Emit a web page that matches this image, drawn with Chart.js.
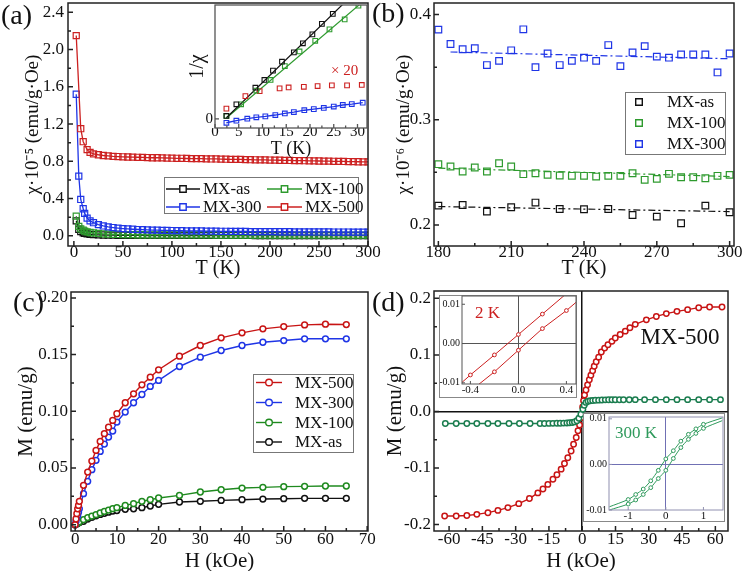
<!DOCTYPE html>
<html>
<head>
<meta charset="utf-8">
<title>Susceptibility and magnetization</title>
<script src="https://cdn.jsdelivr.net/npm/chart.js@4.4.1/dist/chart.umd.min.js"></script>
<style>
  body { margin: 0; background: #fff; }
  #fig { position: relative; width: 744px; height: 571px; overflow: hidden; background: #fff; }
  #fig canvas { position: absolute; }
</style>
</head>
<body>
<div id="fig">
  <canvas id="pa" width="390" height="285" style="left:0;top:0"></canvas>
  <canvas id="pb" width="372" height="285" style="left:372px;top:0"></canvas>
  <canvas id="pc" width="390" height="286" style="left:0;top:285px"></canvas>
  <canvas id="pd" width="372" height="286" style="left:372px;top:285px"></canvas>
  <canvas id="ia" width="187" height="162" style="left:185px;top:0"></canvas>
  <canvas id="i2k" width="138" height="103" style="left:439px;top:295px;background:#fff"></canvas>
  <canvas id="i300" width="142" height="109" style="left:583px;top:413px;background:#fff"></canvas>
</div>
<script>
// ---- (a) chi vs T, main ----
const aT = [2.4, 5, 7, 9.5, 11, 13.5, 16.5, 20, 25, 30, 35, 40, 45, 50, 55, 60, 65, 70, 75, 80, 85, 90, 95, 100,
  105, 110, 115, 120, 125, 130, 135, 140, 145, 150, 155, 160, 165, 170, 175, 180, 185, 190, 195, 200,
  205, 210, 215, 220, 225, 230, 235, 240, 245, 250, 255, 260, 265, 270, 275, 280, 285, 290, 295, 300];
const aRed = [2.15, null, 1.15, 1.01, null, 0.925, 0.895, 0.880, 0.870, 0.862, 0.858, 0.853, 0.851, 0.848, 0.846, 0.845,
  0.843, 0.842, 0.840, 0.838, 0.838, 0.836, 0.835, 0.833, 0.832, 0.832, 0.830, 0.829, 0.828, 0.828, 0.826, 0.825,
  0.825, 0.823, 0.822, 0.821, 0.820, 0.820, 0.818, 0.817, 0.816, 0.815, 0.815, 0.813, 0.812, 0.811, 0.810, 0.809,
  0.808, 0.807, 0.806, 0.805, 0.804, 0.803, 0.802, 0.801, 0.800, 0.799, 0.798, 0.797, 0.796, 0.795, 0.794, 0.793];
const aBlue = [1.52, 0.64, 0.39, 0.29, 0.24, 0.19, 0.16, 0.14, 0.12, 0.105, 0.095, 0.088, 0.082, 0.077, 0.073, 0.070,
  0.067, 0.065, 0.063, 0.061, 0.060, 0.058, 0.057, 0.056, 0.055, 0.054, 0.053, 0.052, 0.052, 0.051, 0.050, 0.050,
  0.049, 0.048, 0.048, 0.047, 0.047, 0.046, 0.046, 0.045, 0.045, 0.045, 0.044, 0.044, 0.044, 0.043, 0.043, 0.043,
  0.042, 0.042, 0.042, 0.042, 0.041, 0.041, 0.041, 0.041, 0.040, 0.040, 0.040, 0.040, 0.039, 0.039, 0.039, 0.039];
const aGreen = [0.21, 0.10, 0.075, 0.06, 0.05, 0.042, 0.035, 0.030, 0.025, 0.021, 0.018, 0.016, 0.014, 0.013, 0.012, 0.012,
  0.011, 0.011, 0.010, 0.010, 0.010, 0.009, 0.009, 0.009, 0.009, 0.009, 0.009, 0.009, 0.009, 0.009, 0.009, 0.009,
  0.008, 0.008, 0.008, 0.008, 0.008, 0.008, 0.008, 0.008, 0.008, 0.008, 0.008, 0.008, 0.008, 0.008, 0.008, 0.008,
  0.007, 0.007, 0.007, 0.007, 0.007, 0.007, 0.007, 0.007, 0.007, 0.007, 0.007, 0.007, 0.007, 0.007, 0.007, 0.007];
const aBlack = [0.16, 0.07, 0.045, 0.032, 0.026, 0.020, 0.016, 0.013, 0.010, 0.008, 0.007, 0.006, 0.005, 0.005, 0.004, 0.004,
  0.004, 0.004, 0.003, 0.003, 0.003, 0.003, 0.003, 0.003, 0.003, 0.003, 0.003, 0.003, 0.003, 0.003, 0.003, 0.003,
  0.003, 0.003, 0.003, 0.003, 0.003, 0.003, 0.003, 0.003, 0.002, 0.002, 0.002, 0.002, 0.002, 0.002, 0.002, 0.002,
  0.002, 0.002, 0.002, 0.002, 0.002, 0.002, 0.002, 0.002, 0.002, 0.002, 0.002, 0.002, 0.002, 0.002, 0.002, 0.002];
const aXTicks = [0, 50, 100, 150, 200, 250, 300];
const aYTicks = [0, 0.4, 0.8, 1.2, 1.6, 2.0, 2.4];

// ---- (a) inset: 1/chi vs T ----
const iaBlackT = [2.4, 4.5, 8.5, 10.4, 12.2, 14.1, 16.6, 18.5, 20.5, 22.5, 24.8];
const iaBlack = [0.13, 0.64, 1.37, 1.71, 2.12, 2.51, 2.92, 3.32, 3.71, 4.17, 4.61];
const iaGreenT = [2.4, 5.5, 8.7, 11.7, 14.7, 17.8, 21.1, 24.1, 27.3, 30.2];
const iaGreen = [0.13, 0.64, 1.24, 1.71, 2.32, 2.96, 3.43, 3.93, 4.37, 4.97];
const iaRedT = [2.4, 6.4, 9.4, 13.6, 15.5, 18.7, 21.6, 24.6, 27.8, 30.9];
const iaRed = [0.45, 1.00, 1.22, 1.34, 1.38, 1.41, 1.44, 1.47, 1.47, 1.49];
const iaBlueT = [2.4, 4.5, 6.8, 8.7, 10.6, 12.7, 14.7, 16.6, 18.8, 20.8, 22.9, 25.0, 26.9, 28.8, 31.1];
const iaBlue = [-0.17, -0.08, 0.01, 0.07, 0.11, 0.17, 0.24, 0.30, 0.38, 0.43, 0.48, 0.54, 0.61, 0.65, 0.71];
const iaBlackFit = [[2.4, 0.05], [27.0, 5.05]];
const iaGreenFit = [[2.4, 0.04], [30.6, 5.05]];
const iaXTicks = [0, 5, 10, 15, 20, 25, 30];
const iaYTicks = [0];

// ---- (b) chi vs T, 180-300 K ----
const bT = [180, 185, 190, 195, 200, 205, 210, 215, 220, 225, 230, 235, 240, 245, 250, 255, 260, 265, 270, 275, 280, 285, 290, 295, 300];
const bBlue = [0.3857, 0.372, 0.367, 0.368, 0.352, 0.356, 0.366, 0.386, 0.350, 0.363, 0.352, 0.356, 0.359,
  0.356, 0.371, 0.351, 0.364, 0.370, 0.360, 0.359, 0.362, 0.362, 0.362, 0.345, 0.363];
const bGreen = [0.2578, 0.2556, 0.2508, 0.2546, 0.2508, 0.2587, 0.2556, 0.2483, 0.2492, 0.2476, 0.2470, 0.2467, 0.2467,
  0.2460, 0.2467, 0.2467, 0.2492, 0.2429, 0.2438, 0.2486, 0.2454, 0.2454, 0.2444, 0.2467, 0.2476];
const bT10 = [180, 190, 200, 210, 220, 230, 240, 250, 260, 270, 280, 290, 300];
const bBlack = [0.2184, 0.2190, 0.2127, 0.2168, 0.2213, 0.2152, 0.2149, 0.2152, 0.2095, 0.2079, 0.2016, 0.2184, 0.2121];
const bBlueFit = [[185, 0.3644], [300, 0.358]];
const bGreenFit = [[180, 0.254], [300, 0.246]];
const bBlackFit = [[180, 0.2175], [300, 0.2127]];
const bXTicks = [180, 210, 240, 270, 300];
const bYTicks = [0.2, 0.3, 0.4];

// ---- (c) M vs H ----
const cH = [0, 0.2, 0.4, 0.6, 0.8, 1, 2, 3, 4, 5, 6, 7, 8, 9, 10, 12, 14, 16, 18, 20, 25, 30, 35, 40, 45, 50, 55, 60, 65];
const cRed = [0, 0.005, 0.0097, 0.014, 0.017, 0.0206, 0.0347, 0.0464, 0.0561, 0.0655, 0.0734, 0.0802, 0.086, 0.0919, 0.0978,
  0.1075, 0.1154, 0.1233, 0.1301, 0.1366, 0.1486, 0.158, 0.1648, 0.1692, 0.1727, 0.1747, 0.1762, 0.1768, 0.1765];
const cBlue = [0, 0.003, 0.006, 0.008, 0.011, 0.014, 0.0273, 0.0382, 0.0485, 0.0567, 0.0646, 0.0711, 0.0772, 0.0825, 0.0905,
  0.0993, 0.1075, 0.1148, 0.1219, 0.1272, 0.1395, 0.1477, 0.1536, 0.158, 0.1609, 0.1624, 0.1639, 0.1639, 0.1639];
const cGreen = [0, 0.0005, 0.001, 0.0015, 0.002, 0.0025, 0.0044, 0.0062, 0.0076, 0.0088, 0.0103, 0.0117, 0.0129, 0.0141, 0.015,
  0.017, 0.0185, 0.0206, 0.022, 0.0235, 0.0258, 0.0288, 0.0308, 0.0323, 0.0329, 0.0335, 0.0338, 0.0341, 0.0341];
const cBlack = [0, 0.0004, 0.0008, 0.0012, 0.0016, 0.002, 0.003, 0.005, 0.0065, 0.0078, 0.009, 0.010, 0.011, 0.012, 0.0125,
  0.0135, 0.014, 0.015, 0.0164, 0.0179, 0.020, 0.0206, 0.0214, 0.022, 0.0226, 0.0229, 0.0232, 0.0232, 0.0232];
const cXTicks = [0, 10, 20, 30, 40, 50, 60, 70];
const cYTicks = [0, 0.05, 0.10, 0.15, 0.20];

// ---- (d) M vs H loops ----
const dRedH = [-62, -56.8, -52, -47.5, -42.5, -38, -33.5, -28.6, -23.8, -20, -17.7, -15.5, -13.2, -11.4, -9.5, -8, -6.5, -5,
  -3.9, -2.7, -1.9, -1.2, -0.45, 0.2, 0.6, 1.05, 1.7, 2.4, 3.2, 3.9, 4.7, 5.4, 6.3, 7.4, 8.6, 10.1, 11.6, 13.4, 14.9,
  17.1, 19.4, 21.5, 23.9, 28.9, 33.4, 37.9, 42.7, 47.5, 52.5, 57.4, 63];
const dRed = [-0.185, -0.185, -0.184, -0.182, -0.179, -0.175, -0.170, -0.163, -0.154, -0.144, -0.137, -0.129, -0.120, -0.112,
  -0.102, -0.092, -0.082, -0.070, -0.058, -0.046, -0.034, -0.024, -0.011, 0.008, 0.019, 0.029, 0.038, 0.047, 0.056, 0.064,
  0.072, 0.080, 0.088, 0.096, 0.105, 0.112, 0.118, 0.124, 0.130, 0.136, 0.142, 0.148, 0.154, 0.162, 0.168, 0.173, 0.177,
  0.180, 0.1835, 0.1846, 0.1846];
const dGreenH = [-61.7, -56.8, -52, -47.5, -42.5, -38, -33, -28.3, -23.5, -19, -17, -15, -13.2, -11.4, -9.9, -8.4, -6.9, -5.7,
  -4.5, -3.5, -2.4, -1.5, -0.6, 0.3, 0.9, 1.7, 2.6, 3.6, 4.7, 5.9, 7.4, 8.9, 10.4, 11.9, 13.4, 14.9, 16.8, 18.6, 21.2,
  23.9, 28.1, 33, 37.9, 42.7, 47.5, 52.5, 57.4, 62.3];
const dGreen = [-0.0213, -0.0213, -0.0213, -0.0213, -0.0213, -0.0213, -0.0213, -0.0213, -0.0213, -0.0212, -0.0212, -0.0211,
  -0.0210, -0.0209, -0.0208, -0.0206, -0.0204, -0.0201, -0.0195, -0.0185, -0.0165, -0.0120, -0.0050, 0.004, 0.011, 0.016,
  0.018, 0.0188, 0.0195, 0.0198, 0.0200, 0.0203, 0.0205, 0.0206, 0.0207, 0.0208, 0.0208, 0.0208, 0.0208, 0.0209, 0.0209,
  0.0209, 0.0209, 0.0209, 0.0209, 0.0209, 0.0209, 0.0209];
const dXTicks = [-60, -45, -30, -15, 0, 15, 30, 45, 60];
const dYTicks = [-0.2, -0.1, 0, 0.1, 0.2];

// ---- (d) insets ----
const k2H = [-0.5, -0.4, -0.2, 0, 0.2, 0.4, 0.5];
const k2Up = [-0.0107, -0.0080, -0.0029, 0.0023, 0.0075, 0.0127, 0.0153];
const k2Down = [-0.0147, -0.0121, -0.0072, -0.0017, 0.0038, 0.0084, 0.0110];
const k2XTicks = [-0.4, 0, 0.4];
const k2YTicks = [-0.01, 0, 0.01];
const k3H = [-1.5, -1, -0.8, -0.6, -0.4, -0.2, 0, 0.2, 0.4, 0.6, 0.8, 1, 1.5];
const k3Up = [-0.0093, -0.0077, -0.0066, -0.0054, -0.0036, -0.0013, 0.0012, 0.0030, 0.0051, 0.0066, 0.0078, 0.0088, 0.0102];
const k3Down = [-0.0100, -0.0087, -0.0078, -0.0066, -0.0051, -0.0031, -0.0013, 0.0013, 0.0037, 0.0055, 0.0068, 0.0079, 0.0096];
const k3XTicks = [-1, 0, 1];
const k3YTicks = [-0.01, 0, 0.01];

const SERIF = "'Liberation Serif','Times New Roman',serif";
const K = '#111111', G = '#2e9a2e', B = '#1f35e6', R = '#cc2020';
const DR = '#c81414', DG = '#1b7d4f', IG = '#2f9a5c';
Chart.defaults.font.family = SERIF;
Chart.defaults.color = '#111';

// frame box plus inward major/minor ticks on bottom and left
const frame = {
  id: 'frame',
  afterDraw(chart, args, o) {
    const { ctx, chartArea: a } = chart;
    ctx.save();
    if (o.outer) {
      ctx.strokeStyle = o.outer; ctx.lineWidth = 1;
      ctx.strokeRect(0.5, 0.5, chart.width - 1, chart.height - 1);
    }
    ctx.strokeStyle = o.color || '#222';
    ctx.lineWidth = o.width || 1.5;
    const len = o.len || 5;
    ['x', 'y'].forEach(id => {
      const s = chart.scales[id];
      const vals = s.ticks.map(t => t.value);
      const marks = vals.map(v => [v, len]);
      if (o.minor !== false && vals.length > 1) {
        const st = vals[1] - vals[0];
        for (let v = vals[0] - st / 2; v <= s.max + 1e-9; v += st) if (v >= s.min) marks.push([v, len * 0.6]);
      }
      ctx.beginPath();
      marks.forEach(([v, l]) => {
        const p = s.getPixelForValue(v);
        if (id === 'x') {
          if (p < a.left || p > a.right) return;
          ctx.moveTo(p, a.bottom); ctx.lineTo(p, a.bottom - l);
        } else {
          if (p < a.top || p > a.bottom) return;
          ctx.moveTo(a.left, p); ctx.lineTo(a.left + l, p);
        }
      });
      ctx.stroke();
    });
    ctx.strokeRect(a.left, a.top, a.right - a.left, a.bottom - a.top);
    ctx.restore();
  }
};

const boxLegend = {
  id: 'boxLegend',
  afterDraw(chart, args, o) {
    if (!o.items) return;
    const ctx = chart.ctx;
    ctx.save();
    ctx.fillStyle = '#fff';
    ctx.fillRect(o.x, o.y, o.w, o.h);
    ctx.strokeStyle = '#777'; ctx.lineWidth = 1;
    ctx.strokeRect(o.x + 0.5, o.y + 0.5, o.w, o.h);
    ctx.font = `${o.size}px ${SERIF}`;
    ctx.textBaseline = 'middle';
    o.items.forEach(it => {
      ctx.strokeStyle = it.color; ctx.lineWidth = 1.4;
      if (it.l0 !== undefined) {
        ctx.beginPath(); ctx.moveTo(it.l0, it.y); ctx.lineTo(it.l1, it.y); ctx.stroke();
      }
      ctx.fillStyle = '#fff';
      ctx.beginPath();
      if (o.shape === 'circle') ctx.arc(it.mx, it.y, o.r, 0, Math.PI * 2);
      else ctx.rect(it.mx - o.r, it.y - o.r, o.r * 2, o.r * 2);
      ctx.fill(); ctx.stroke();
      ctx.fillStyle = '#111';
      ctx.fillText(it.text, it.tx, it.y + 1);
    });
    ctx.restore();
  }
};

const notes = {
  id: 'notes',
  afterDraw(chart, args, o) {
    const ctx = chart.ctx;
    ctx.save();
    (o.items || []).forEach(n => {
      ctx.font = `${n.size}px ${SERIF}`;
      ctx.fillStyle = n.color || '#111';
      ctx.textAlign = n.align || 'left';
      ctx.textBaseline = 'middle';
      ctx.fillText(n.text, n.x, n.y);
    });
    ctx.restore();
  }
};

function grid(zero) {
  if (!zero) return { display: false, drawTicks: false };
  return {
    drawTicks: false, lineWidth: zero.w,
    color: c => (c.tick && Math.abs(c.tick.value) < 1e-12) ? zero.c : 'rgba(0,0,0,0)'
  };
}

function sx(o) {
  return {
    type: 'linear', position: 'bottom', min: o.min, max: o.max,
    afterBuildTicks: s => { s.ticks = o.ticks.map(v => ({ value: v })); },
    afterFit: s => { s.height = o.size; s.paddingLeft = 0; s.paddingRight = 0; },
    ticks: { font: { size: o.font || 17 }, color: '#111', padding: o.pad ?? 2, maxRotation: 0, autoSkip: false, callback: o.fmt },
    grid: grid(o.zero),
    border: { display: false },
    title: { display: !!o.title, text: o.title || '', font: { size: o.tfont || 20 }, color: '#111', padding: { top: 0, bottom: o.tpad || 0 } }
  };
}

function sy(o) {
  return {
    type: 'linear', position: 'left', min: o.min, max: o.max,
    afterBuildTicks: s => { s.ticks = o.ticks.map(v => ({ value: v })); },
    afterFit: s => { s.width = o.size; s.paddingTop = 0; s.paddingBottom = 0; },
    ticks: { font: { size: o.font || 17 }, color: '#111', padding: o.pad ?? 4, autoSkip: false, callback: o.fmt },
    grid: grid(o.zero),
    border: { display: false },
    title: { display: !!o.title, text: o.title || '', font: { size: o.tfont || 20 }, color: '#111', padding: { top: o.tpad || 0, bottom: 0 } }
  };
}

function series(xs, ys, o) {
  return {
    data: xs.map((x, i) => ({ x, y: ys[i] })),
    borderColor: o.c, backgroundColor: o.c,
    pointBorderColor: o.c, pointBackgroundColor: o.fill || 'rgba(0,0,0,0)',
    pointStyle: o.shape || 'circle', pointRadius: o.r ?? 3, pointBorderWidth: o.pw || 1.3,
    borderWidth: o.lw ?? 1.3, showLine: o.line !== false, borderDash: o.dash || [],
    spanGaps: true, tension: o.tension || 0, fill: false
  };
}
function pairs(list, o) {
  return series(list.map(p => p[0]), list.map(p => p[1]), Object.assign({ r: 0 }, o));
}

function make(id, datasets, o) {
  return new Chart(document.getElementById(id), {
    type: 'line',
    data: { datasets },
    plugins: [frame, boxLegend, notes],
    options: {
      responsive: false, animation: false, devicePixelRatio: 1, events: [],
      layout: { padding: o.pad, autoPadding: false },
      plugins: {
        legend: { display: false }, tooltip: { enabled: false },
        frame: o.frame || {}, boxLegend: o.legend || {}, notes: { items: o.notes || [] }
      },
      scales: { x: o.x, y: o.y }
    }
  });
}

const f1 = v => v.toFixed(1), f2 = v => v.toFixed(2), f0 = v => String(v);

// (a)
const sqA = { shape: 'rect', r: 4.3, pw: 1.2 };
make('pa', [
  series(aT, aRed, Object.assign({ c: R }, sqA)),
  series(aT, aBlue, Object.assign({ c: B }, sqA)),
  series(aT, aGreen, Object.assign({ c: G }, sqA)),
  series(aT, aBlack, Object.assign({ c: K }, sqA))
], {
  pad: { left: 0, top: 3, right: 22, bottom: 0 },
  x: sx({ min: -6, max: 300, ticks: aXTicks, fmt: f0, size: 39, pad: -4, title: 'T (K)', tpad: 4 }),
  y: sy({ min: -0.11, max: 2.5, ticks: aYTicks, fmt: f1, size: 68, title: 'χ·10⁻⁵ (emu/g·Oe)', tfont: 19, tpad: 21.6 }),
  legend: {
    x: 164, y: 177, w: 194, h: 36, size: 17, shape: 'rect', r: 3.2,
    items: [
      { text: 'MX-as', color: K, l0: 166, l1: 200, mx: 183, tx: 203, y: 189 },
      { text: 'MX-100', color: G, l0: 267, l1: 302, mx: 284.5, tx: 305, y: 189 },
      { text: 'MX-300', color: B, l0: 166, l1: 200, mx: 183, tx: 203, y: 207 },
      { text: 'MX-500', color: R, l0: 267, l1: 302, mx: 284.5, tx: 305, y: 207 }
    ]
  },
  notes: [{ text: '(a)', x: 1, y: 17, size: 28 }]
});

// (a) inset
const sqI = { shape: 'rect', r: 3.3, pw: 1.1 };
make('ia', [
  series(iaBlackT, iaBlack, Object.assign({ c: K, line: false }, sqI)),
  series(iaGreenT, iaGreen, Object.assign({ c: G, line: false }, sqI)),
  series(iaRedT, iaRed, Object.assign({ c: R, line: false }, sqI)),
  series(iaBlueT, iaBlue, Object.assign({ c: B }, sqI)),
  pairs(iaBlackFit, { c: K, lw: 1.2 }),
  pairs(iaGreenFit, { c: G, lw: 1.2 })
], {
  pad: { left: 0, top: 5, right: 5, bottom: 0 },
  x: sx({ min: 0, max: 32, ticks: iaXTicks, fmt: f0, size: 34, font: 15, pad: -5, title: 'T (K)', tfont: 18, tpad: 1.5 }),
  y: sy({ min: -0.4, max: 5, ticks: iaYTicks, fmt: f0, size: 30, font: 15, pad: 2, title: '1/χ', tfont: 20, tpad: 1 }),
  frame: { color: '#555', width: 1.3, len: 4 },
  notes: [{ text: '× 20', x: 146, y: 71, size: 15, color: R }]
});

// (b)
const sqB = { shape: 'rect', r: 4.7, pw: 1.2, line: false };
make('pb', [
  series(bT, bBlue, Object.assign({ c: B }, sqB)),
  series(bT, bGreen, Object.assign({ c: G }, sqB)),
  series(bT10, bBlack, Object.assign({ c: K }, sqB)),
  pairs(bBlueFit, { c: B, lw: 1.2, dash: [7, 3, 2, 3] }),
  pairs(bGreenFit, { c: G, lw: 1.2, dash: [7, 3, 2, 3] }),
  pairs(bBlackFit, { c: K, lw: 1.2, dash: [7, 3, 2, 3] })
], {
  pad: { left: 0, top: 3, right: 10, bottom: 0 },
  x: sx({ min: 178.2, max: 301.8, ticks: bXTicks, fmt: f0, size: 39, pad: -4, title: 'T (K)', tpad: 4 }),
  y: sy({ min: 0.180, max: 0.411, ticks: bYTicks, fmt: f1, size: 62, pad: 3, title: 'χ·10⁻⁶ (emu/g·Oe)', tfont: 19, tpad: 20.3 }),
  legend: {
    x: 253, y: 92, w: 100, h: 62, size: 17, shape: 'rect', r: 3.3,
    items: [
      { text: 'MX-as', color: K, mx: 267, tx: 295, y: 102 },
      { text: 'MX-100', color: G, mx: 267, tx: 295, y: 123 },
      { text: 'MX-300', color: B, mx: 267, tx: 295, y: 144 }
    ]
  },
  notes: [{ text: '(b)', x: 0, y: 15, size: 28 }]
});

// (c)
const ciC = { r: 2.9, pw: 1.5, lw: 1.4, fill: '#fff' };
make('pc', [
  series(cH, cRed, Object.assign({ c: DR }, ciC)),
  series(cH, cBlue, Object.assign({ c: B }, ciC)),
  series(cH, cGreen, Object.assign({ c: '#1f8a1f' }, ciC)),
  series(cH, cBlack, Object.assign({ c: K }, ciC))
], {
  pad: { left: 0, top: 7, right: 22, bottom: 0 },
  x: sx({ min: -1, max: 70.2, ticks: cXTicks, fmt: f0, size: 40, pad: -2, title: 'H (kOe)', tfont: 21, tpad: -3 }),
  y: sy({ min: -0.0056, max: 0.2052, ticks: cYTicks, fmt: f2, size: 71, pad: 3, title: 'M (emu/g)', tfont: 21, tpad: 14 }),
  legend: {
    x: 253, y: 89, w: 100, h: 78, size: 17, shape: 'circle', r: 3.3,
    items: [
      { text: 'MX-500', color: DR, l0: 256, l1: 282, mx: 269, tx: 295, y: 97.5 },
      { text: 'MX-300', color: B, l0: 256, l1: 282, mx: 269, tx: 295, y: 117.5 },
      { text: 'MX-100', color: '#1f8a1f', l0: 256, l1: 282, mx: 269, tx: 295, y: 137.5 },
      { text: 'MX-as', color: K, l0: 256, l1: 282, mx: 269, tx: 295, y: 157 }
    ]
  },
  notes: [{ text: '(c)', x: 13, y: 19, size: 28 }]
});

// (d)
const ciD = { r: 2.7, pw: 1.5, lw: 1.4, fill: '#fff' };
make('pd', [
  series(dGreenH, dGreen, Object.assign({ c: DG }, ciD)),
  series(dRedH, dRed, Object.assign({ c: DR }, ciD))
], {
  pad: { left: 0, top: 6, right: 16, bottom: 0 },
  x: sx({ min: -66.8, max: 65.7, ticks: dXTicks, fmt: f0, size: 40, pad: -2, title: 'H (kOe)', tfont: 21, tpad: -3, zero: { c: '#111', w: 1.5 } }),
  y: sy({ min: -0.2114, max: 0.213, ticks: dYTicks, fmt: f1, size: 62, pad: 3, title: 'M (emu/g)', tfont: 21, tpad: 10.7, zero: { c: '#111', w: 1.5 } }),
  notes: [{ text: '(d)', x: 0, y: 19, size: 28 }, { text: 'MX-500', x: 308, y: 53, size: 23, align: 'center' }]
});

// (d) inset 2 K
const rad2 = k2H.map((h, i) => (i === 0 || i === k2H.length - 1) ? 0 : 1.9);
make('i2k', [
  series(k2H, k2Up, { c: R, r: rad2, pw: 1, lw: 1, fill: '#fff' }),
  series(k2H, k2Down, { c: R, r: rad2, pw: 1, lw: 1, fill: '#fff' })
], {
  pad: { left: 0, top: 1, right: 1, bottom: 0 },
  x: sx({ min: -0.47, max: 0.48, ticks: k2XTicks, fmt: f1, size: 14, font: 11, pad: 0, zero: { c: '#555', w: 1 } }),
  y: sy({ min: -0.0103, max: 0.0121, ticks: k2YTicks, fmt: f2, size: 23, font: 10, pad: 2, zero: { c: '#555', w: 1 } }),
  frame: { color: '#555', width: 1, len: 3, minor: false, outer: '#888' },
  notes: [{ text: '2 K', x: 36, y: 19, size: 17, color: R }]
});

// (d) inset 300 K
const rad3 = k3H.map((h, i) => (i === 0 || i === k3H.length - 1) ? 0 : 1.9);
make('i300', [
  series(k3H, k3Up, { c: IG, r: rad3, pw: 1, lw: 1, fill: '#fff', tension: 0.25 }),
  series(k3H, k3Down, { c: IG, r: rad3, pw: 1, lw: 1, fill: '#fff', tension: 0.25 })
], {
  pad: { left: 0, top: 4, right: 2, bottom: 0 },
  x: sx({ min: -1.51, max: 1.52, ticks: k3XTicks, fmt: f0, size: 12, font: 11, pad: 0, zero: { c: '#7070b4', w: 1 } }),
  y: sy({ min: -0.01, max: 0.0104, ticks: k3YTicks, fmt: f2, size: 26, font: 10, pad: 2, zero: { c: '#7070b4', w: 1 } }),
  frame: { color: '#9090b0', width: 1, len: 3, minor: false, outer: '#888' },
  notes: [{ text: '300 K', x: 32, y: 21, size: 17, color: IG }]
});
</script>
</body>
</html>
